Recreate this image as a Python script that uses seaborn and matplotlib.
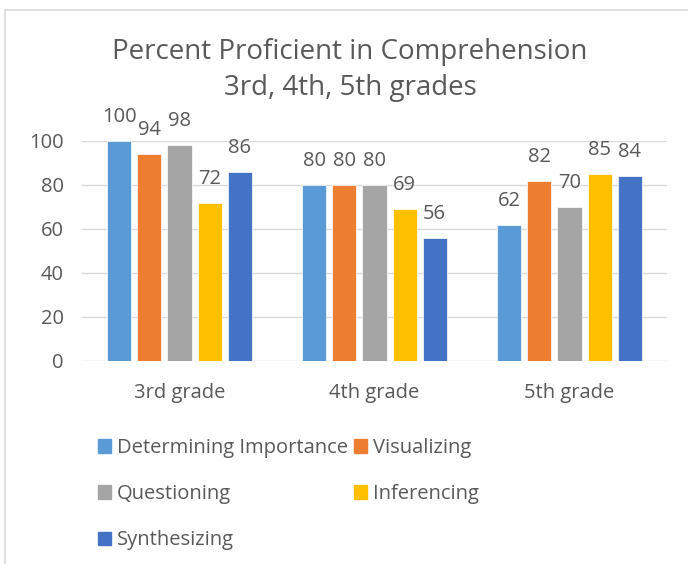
import pandas as pd
import seaborn as sns
import matplotlib.pyplot as plt
from matplotlib.patches import Rectangle

# 数据
grades = ['3rd grade', '4th grade', '5th grade']
skills = ['Determining Importance', 'Visualizing', 'Questioning', 'Inferencing', 'Synthesizing']
determining = [100, 80, 62]
visualizing = [94, 80, 82]
questioning = [98, 80, 70]
inferencing = [72, 69, 85]
synthesizing = [86, 56, 84]
colors = ['#5B9BD5', '#ED7D31', '#A5A5A5', '#FFC000', '#4472C4']

values = [determining, visualizing, questioning, inferencing, synthesizing]
df = pd.DataFrame({
    'grade': [g for _ in skills for g in grades],
    'skill': [s for s in skills for _ in grades],
    'value': [v for vals in values for v in vals],
})

sns.set_style('white')
plt.rcParams['font.family'] = ['Open Sans', 'DejaVu Sans']
text_color = '#595959'
fs = 14.5

fig = plt.figure(figsize=(6.88, 5.64), dpi=100)
ax = fig.add_axes([82 / 688, 203 / 564, 585 / 688, 220 / 564])

sns.barplot(data=df, x='grade', y='value', hue='skill', hue_order=skills,
            order=grades, palette=colors, saturation=1, width=0.77, gap=0.2,
            edgecolor='white', linewidth=0.5, ax=ax, legend=False, zorder=3)

ax.set_ylim(0, 100)
ax.set_xlim(-0.5, 2.5)
ax.set_yticks(range(0, 101, 20))
ax.grid(axis='y', color='#D9D9D9', linewidth=1, zorder=0)
ax.set_axisbelow(True)
sns.despine(ax=ax, left=True, bottom=True)
ax.set_xlabel('')
ax.set_ylabel('')
ax.tick_params(axis='both', length=0, labelsize=fs, colors=text_color)
ax.tick_params(axis='x', pad=16)
ax.tick_params(axis='y', pad=13)

# 数据标签
for cont in ax.containers:
    for bar in cont:
        h = bar.get_height()
        ax.annotate(f'{h:.0f}', (bar.get_x() + bar.get_width() / 2, h),
                    xytext=(0, 24), textcoords='offset pixels',
                    ha='center', va='center', fontsize=fs,
                    color=text_color, annotation_clip=False)

fig.text(350 / 688, 1 - 70 / 564, 'Percent Proficient in Comprehension\n3rd, 4th, 5th grades',
         ha='center', va='center', fontsize=20, color=text_color, linespacing=1.42)

# 图例（按行排列）
handles = [Rectangle((0, 0), 1, 1, color=c) for c in colors]
order = [0, 2, 4, 1, 3]
fig.legend([handles[i] for i in order], [skills[i] for i in order],
           loc='upper left', bbox_to_anchor=(88 / 688, 1 - 428 / 564), ncol=2,
           frameon=False, fontsize=fs, labelcolor=text_color,
           handlelength=0.65, handleheight=0.65, handletextpad=0.3,
           columnspacing=0.3, labelspacing=1.3, borderpad=0)

# 外框
fig.patches.append(Rectangle((5 / 688, -0.1), 2, 1 - 10 / 564 + 0.1,
                             transform=fig.transFigure, fill=False,
                             edgecolor='#D9D9D9', linewidth=1.2))

fig.savefig('out.png', dpi=100, facecolor='white')
